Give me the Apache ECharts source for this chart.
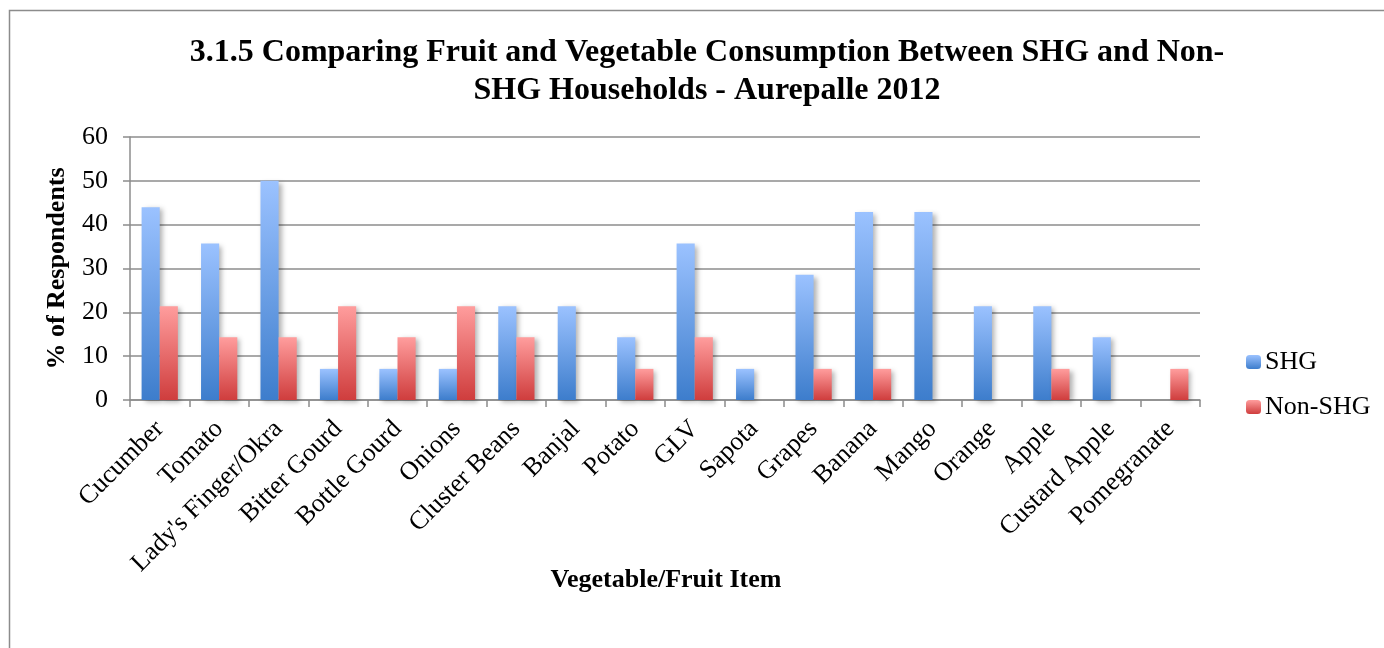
<!DOCTYPE html>
<html>
<head>
<meta charset="utf-8">
<script src="https://cdn.jsdelivr.net/npm/echarts@6/dist/echarts.min.js"></script>
<style>
  html, body { margin: 0; padding: 0; background: #fff; }
  #main { width: 1384px; height: 648px; }
</style>
</head>
<body>
<div id="main"></div>
<script>
// data
var items = ['Cucumber', 'Tomato', "Lady's Finger/Okra", 'Bitter Gourd', 'Bottle Gourd', 'Onions',
  'Cluster Beans', 'Banjal', 'Potato', 'GLV', 'Sapota', 'Grapes', 'Banana', 'Mango', 'Orange',
  'Apple', 'Custard Apple', 'Pomegranate'];
var shg = [44, 35.7, 50, 7.1, 7.1, 7.1, 21.4, 21.4, 14.3, 35.7, 7.1, 28.6, 42.9, 42.9, 21.4, 21.4, 14.3, 0];
var nonShg = [21.4, 14.3, 14.3, 21.4, 14.3, 21.4, 14.3, 0, 7.1, 14.3, 0, 7.1, 7.1, 0, 0, 7.1, 0, 7.1];
var yTicks = [0, 10, 20, 30, 40, 50, 60];

var font = '"Liberation Serif", "Times New Roman", serif';

function grad(top, bottom) {
  return new echarts.graphic.LinearGradient(0, 0, 0, 1, [
    { offset: 0, color: top },
    { offset: 1, color: bottom }
  ]);
}

var myChart = echarts.init(document.getElementById('main'));
var option = {
  backgroundColor: '#fff',
  animation: false,
  title: {
    text: '3.1.5 Comparing Fruit and Vegetable Consumption Between SHG and Non-\nSHG Households - Aurepalle 2012',
    left: 702,
    top: 29,
    textAlign: 'center',
    textStyle: { fontFamily: font, fontSize: 32, fontWeight: 'bold', color: '#000', lineHeight: 38 }
  },
  graphic: [{
    type: 'rect',
    shape: { x: 9.5, y: 10.5, width: 1400, height: 700 },
    style: { fill: 'none', stroke: '#8c8c8c', lineWidth: 1.5 },
    silent: true
  }, {
    // x axis title
    type: 'text',
    x: 666,
    y: 580,
    style: {
      text: 'Vegetable/Fruit Item',
      fontFamily: font, fontSize: 26, fontWeight: 'bold', fill: '#000',
      textAlign: 'center', textVerticalAlign: 'middle'
    },
    silent: true
  }],
  legend: {
    orient: 'vertical',
    left: 1241,
    top: 344,
    itemWidth: 15,
    itemHeight: 14,
    itemGap: 19,
    textStyle: { fontFamily: font, fontSize: 26, color: '#000', padding: [0, 0, 0, -1] },
    data: ['SHG', 'Non-SHG']
  },
  grid: { left: 130, right: 184, top: 137, bottom: 248, containLabel: false },
  xAxis: {
    type: 'category',
    data: items,
    axisLine: { lineStyle: { color: '#8c8c8c', width: 1.5 } },
    axisTick: { show: true, alignWithLabel: false, length: 7, lineStyle: { color: '#8c8c8c', width: 1.5 } },
    axisLabel: { rotate: 45, interval: 0, margin: 25, fontFamily: font, fontSize: 26, color: '#000' }
  },
  yAxis: {
    type: 'value',
    min: yTicks[0],
    max: yTicks[yTicks.length - 1],
    interval: 10,
    name: '% of Respondents',
    nameLocation: 'middle',
    nameGap: 60,
    nameTextStyle: { fontFamily: font, fontSize: 26, fontWeight: 'bold', color: '#000' },
    axisLine: { show: true, lineStyle: { color: '#8c8c8c', width: 1.5 } },
    axisTick: { show: true, length: 7, lineStyle: { color: '#8c8c8c', width: 1.5 } },
    axisLabel: { margin: 22, fontFamily: font, fontSize: 26, color: '#000' },
    splitLine: { lineStyle: { color: '#8c8c8c', width: 1.5 } }
  },
  series: [{
    name: 'SHG',
    type: 'bar',
    data: shg,
    barGap: '0%',
    barCategoryGap: '39%',
    itemStyle: {
      color: grad('#9bc2ff', '#3d7dcc'),
      shadowColor: 'rgba(0,0,0,0.3)',
      shadowBlur: 5,
      shadowOffsetX: 3,
      shadowOffsetY: 2
    }
  }, {
    name: 'Non-SHG',
    type: 'bar',
    data: nonShg,
    itemStyle: {
      color: grad('#ff9d9d', '#cf3d3d'),
      shadowColor: 'rgba(0,0,0,0.3)',
      shadowBlur: 5,
      shadowOffsetX: 3,
      shadowOffsetY: 2
    }
  }]
};
myChart.setOption(option);
</script>
</body>
</html>
